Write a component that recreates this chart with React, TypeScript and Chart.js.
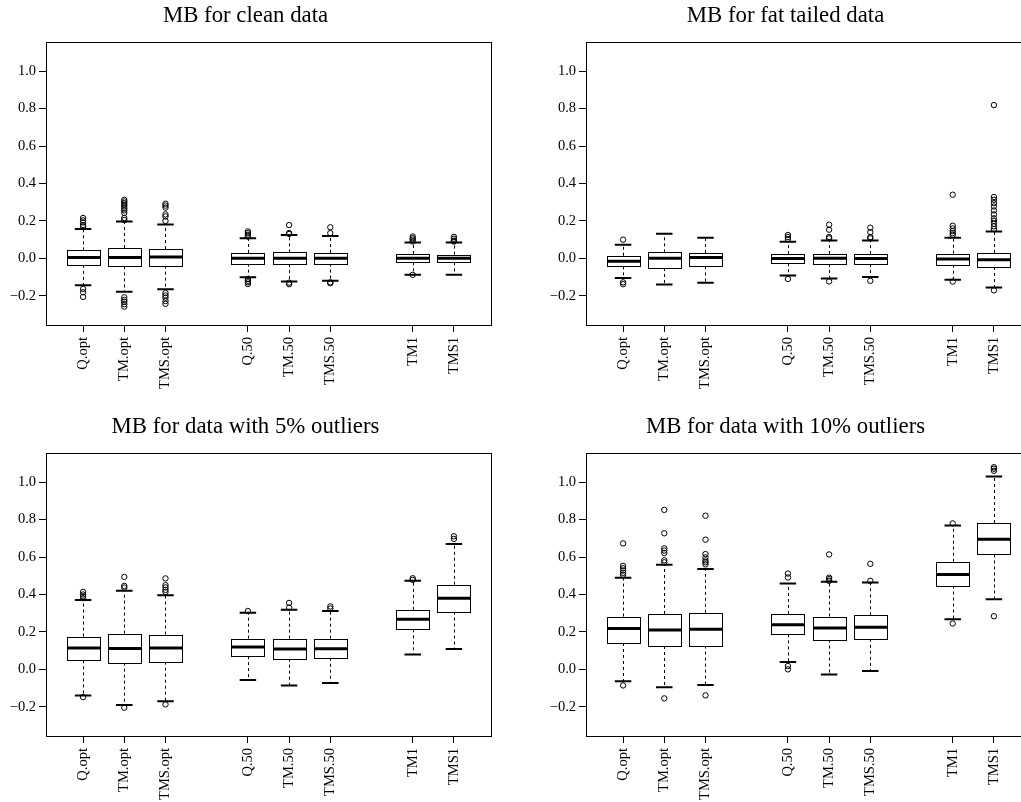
import React, { useEffect, useRef } from "react";
import { Chart, registerables } from "chart.js";

Chart.register(...registerables);

// ---- shared categories / ticks ----
const categories = ["Q.opt", "TM.opt", "TMS.opt", "Q.50", "TM.50", "TMS.50", "TM1", "TMS1"];
const positions = [1, 2, 3, 5, 6, 7, 9, 10];
const yTicks = [-0.2, 0, 0.2, 0.4, 0.6, 0.8, 1.0];
const panelTitles = [
  "MB for clean data",
  "MB for fat tailed data",
  "MB for data with 5% outliers",
  "MB for data with 10% outliers",
];

// ---- panel 1: clean data ----
const cleanLower = [-0.144, -0.178, -0.165, -0.101, -0.123, -0.119, -0.087, -0.087];
const cleanQ1 = [-0.035, -0.043, -0.039, -0.028, -0.031, -0.028, -0.021, -0.021];
const cleanMedian = [0.004, 0.004, 0.007, 0.0, 0.0, 0.0, 0.0, 0.0];
const cleanQ3 = [0.043, 0.055, 0.05, 0.029, 0.032, 0.029, 0.023, 0.02];
const cleanUpper = [0.157, 0.197, 0.181, 0.107, 0.125, 0.12, 0.085, 0.085];
const cleanOutliers = [
  [0.216, 0.203, 0.192, 0.178, 0.17, -0.163, -0.181, -0.206],
  [0.313, 0.304, 0.295, 0.286, 0.277, 0.266, 0.256, 0.242, 0.216, 0.205, -0.208, -0.222, -0.232, -0.245, -0.258],
  [0.292, 0.282, 0.271, 0.235, 0.224, 0.2, -0.185, -0.198, -0.21, -0.228, -0.243],
  [0.144, 0.135, 0.126, 0.117, -0.11, -0.12, -0.128, -0.137],
  [0.178, 0.135, 0.13, -0.13, -0.138],
  [0.166, 0.135, -0.128, -0.133],
  [0.117, 0.108, 0.1, 0.09, -0.088],
  [0.115, 0.105, 0.095, 0.09],
];

// ---- panel 2: fat tailed data ----
const fatLower = [-0.105, -0.14, -0.13, -0.092, -0.107, -0.1, -0.114, -0.156];
const fatQ1 = [-0.043, -0.051, -0.043, -0.026, -0.03, -0.03, -0.034, -0.046];
const fatMedian = [-0.016, 0.0, 0.004, -0.001, 0.0, -0.001, -0.003, -0.007];
const fatQ3 = [0.014, 0.032, 0.029, 0.023, 0.023, 0.023, 0.025, 0.029];
const fatUpper = [0.073, 0.132, 0.11, 0.089, 0.096, 0.096, 0.11, 0.144];
const fatOutliers = [
  [0.1, -0.128, -0.138],
  [],
  [],
  [0.125, 0.114, 0.103, -0.11],
  [0.18, 0.153, 0.114, 0.107, -0.123],
  [0.164, 0.14, 0.114, 0.107, -0.12],
  [0.34, 0.174, 0.16, 0.146, 0.135, 0.125, -0.124],
  [0.819, 0.328, 0.313, 0.295, 0.277, 0.256, 0.235, 0.214, 0.2, 0.185, 0.171, 0.157, -0.171],
];

// ---- panel 3: 5% outliers ----
const o5Lower = [-0.139, -0.191, -0.171, -0.057, -0.086, -0.073, 0.08, 0.109];
const o5Q1 = [0.048, 0.036, 0.041, 0.071, 0.057, 0.062, 0.214, 0.309];
const o5Median = [0.114, 0.112, 0.114, 0.12, 0.109, 0.11, 0.268, 0.38];
const o5Q3 = [0.175, 0.191, 0.186, 0.164, 0.164, 0.164, 0.318, 0.452];
const o5Upper = [0.37, 0.42, 0.396, 0.302, 0.318, 0.312, 0.473, 0.67];
const o5Outliers = [
  [0.414, 0.4, 0.39, 0.38, -0.148],
  [0.494, 0.446, 0.437, -0.205],
  [0.486, 0.45, 0.438, 0.425, 0.414, -0.187],
  [0.312],
  [0.355, 0.33],
  [0.336, 0.325],
  [0.487, 0.478],
  [0.711, 0.697],
];

// ---- panel 4: 10% outliers ----
const o10Lower = [-0.064, -0.095, -0.084, 0.039, -0.027, -0.009, 0.268, 0.375];
const o10Q1 = [0.141, 0.125, 0.127, 0.187, 0.159, 0.163, 0.448, 0.614];
const o10Median = [0.218, 0.211, 0.214, 0.239, 0.221, 0.225, 0.507, 0.695];
const o10Q3 = [0.282, 0.296, 0.302, 0.296, 0.282, 0.289, 0.575, 0.782];
const o10Upper = [0.489, 0.559, 0.536, 0.459, 0.468, 0.464, 0.768, 1.03];
const o10Outliers = [
  [0.673, 0.553, 0.54, 0.528, 0.516, 0.505, -0.086],
  [0.852, 0.727, 0.647, 0.635, 0.622, 0.583, 0.572, -0.155],
  [0.821, 0.693, 0.616, 0.598, 0.582, 0.572, 0.561, -0.139],
  [0.512, 0.491, 0.018, 0.0],
  [0.614, 0.49, 0.482, 0.473],
  [0.564, 0.473],
  [0.78, 0.245],
  [1.08, 1.072, 1.061, 0.284],
];

const FONT = "'Liberation Serif', 'Times New Roman', Times, serif";
const CW = 540;
const CH = 411;

type Stats = {
  lower: number[];
  q1: number[];
  median: number[];
  q3: number[];
  upper: number[];
  outliers: number[][];
};

function makeBoxPlugin(s: Stats) {
  return {
    id: "rbox",
    beforeDatasetsDraw(chart: any) {
      const { ctx, scales } = chart;
      const x = scales.x;
      const y = scales.y;
      ctx.save();
      ctx.strokeStyle = "#000";
      for (let i = 0; i < positions.length; i++) {
        const p = positions[i];
        const cx = Math.round(x.getPixelForValue(p)) + 0.5;
        const bl = x.getPixelForValue(p - 0.4);
        const br = x.getPixelForValue(p + 0.4);
        const sl = x.getPixelForValue(p - 0.2);
        const sr = x.getPixelForValue(p + 0.2);
        const yLo = y.getPixelForValue(s.lower[i]);
        const yQ1 = y.getPixelForValue(s.q1[i]);
        const yMed = y.getPixelForValue(s.median[i]);
        const yQ3 = y.getPixelForValue(s.q3[i]);
        const yHi = y.getPixelForValue(s.upper[i]);
        // whiskers (dashed)
        ctx.lineWidth = 1;
        ctx.setLineDash([3, 3]);
        ctx.beginPath();
        ctx.moveTo(cx, yQ3);
        ctx.lineTo(cx, yHi);
        ctx.moveTo(cx, yQ1);
        ctx.lineTo(cx, yLo);
        ctx.stroke();
        ctx.setLineDash([]);
        // staples
        ctx.lineWidth = 2;
        ctx.beginPath();
        ctx.moveTo(sl, yHi);
        ctx.lineTo(sr, yHi);
        ctx.moveTo(sl, yLo);
        ctx.lineTo(sr, yLo);
        ctx.stroke();
        // box
        ctx.lineWidth = 1;
        ctx.fillStyle = "#fff";
        const l = Math.round(bl) + 0.5;
        const r = Math.round(br) + 0.5;
        const t = Math.round(yQ3) + 0.5;
        const b = Math.round(yQ1) + 0.5;
        ctx.fillRect(l, t, r - l, b - t);
        ctx.strokeRect(l, t, r - l, b - t);
        // median
        ctx.lineWidth = 3;
        ctx.beginPath();
        ctx.moveTo(l, yMed);
        ctx.lineTo(r, yMed);
        ctx.stroke();
      }
      ctx.restore();
    },
    afterDraw(chart: any) {
      const { ctx, chartArea } = chart;
      ctx.save();
      ctx.strokeStyle = "#000";
      ctx.lineWidth = 1;
      ctx.strokeRect(
        Math.round(chartArea.left) + 0.5,
        Math.round(chartArea.top) + 0.5,
        Math.round(chartArea.right - chartArea.left),
        Math.round(chartArea.bottom - chartArea.top)
      );
      ctx.restore();
    },
  };
}

function BoxPanel(props: { title: string; stats: Stats; left: number; top: number }) {
  const ref = useRef<HTMLCanvasElement | null>(null);
  useEffect(() => {
    const canvas = ref.current;
    if (!canvas) return;
    const s = props.stats;
    const points = s.outliers.flatMap((arr, i) => arr.map((v) => ({ x: positions[i], y: v })));
    const chart = new Chart(canvas, {
      type: "scatter",
      data: {
        datasets: [
          {
            label: "outliers",
            data: points,
            pointRadius: 2.7,
            pointHoverRadius: 2.7,
            pointBorderWidth: 1,
            borderColor: "#000",
            backgroundColor: "rgba(0,0,0,0)",
            pointBackgroundColor: "rgba(0,0,0,0)",
            pointBorderColor: "#000",
          },
        ],
      },
      options: {
        animation: false,
        responsive: false,
        maintainAspectRatio: false,
        devicePixelRatio: 1,
        events: [],
        layout: { padding: { left: 0, right: CW - 491, top: 0, bottom: 0 } },
        plugins: {
          legend: { display: false },
          tooltip: { enabled: false },
          title: {
            display: true,
            text: props.title,
            color: "#000",
            font: { family: FONT, size: 22.8, weight: "normal", lineHeight: 1.2 },
            padding: { top: 2, bottom: 12.64 },
          },
        },
        scales: {
          x: {
            type: "linear",
            position: "bottom",
            min: 0.1,
            max: 10.9,
            afterBuildTicks: (axis: any) => {
              axis.ticks = positions.map((v) => ({ value: v }));
            },
            afterFit: (scale: any) => {
              scale.height = CH - 325;
            },
            grid: {
              display: true,
              drawOnChartArea: false,
              drawTicks: true,
              tickLength: 7,
              color: "#000",
              lineWidth: 1,
            },
            border: { display: false },
            ticks: {
              autoSkip: false,
              minRotation: 90,
              maxRotation: 90,
              padding: 5,
              color: "#000",
              font: { family: FONT, size: 14.5 },
              callback: (v: any) => {
                const idx = positions.indexOf(Number(v));
                return idx >= 0 ? categories[idx] : "";
              },
            },
          },
          y: {
            type: "linear",
            position: "left",
            min: -0.356,
            max: 1.156,
            afterBuildTicks: (axis: any) => {
              axis.ticks = yTicks.map((v) => ({ value: v }));
            },
            afterFit: (scale: any) => {
              scale.width = 46;
            },
            grid: {
              display: true,
              drawOnChartArea: false,
              drawTicks: true,
              tickLength: 7,
              color: "#000",
              lineWidth: 1,
            },
            border: { display: false },
            ticks: {
              padding: 3,
              color: "#000",
              font: { family: FONT, size: 14.5 },
              callback: (v: any) => Number(v).toFixed(1).replace("-", "\u2212"),
            },
          },
        },
      },
      plugins: [makeBoxPlugin(s)],
    } as any);
    return () => chart.destroy();
  }, [props.title, props.stats]);
  return (
    <canvas
      ref={ref}
      width={CW}
      height={CH}
      style={{ position: "absolute", left: props.left, top: props.top, width: CW, height: CH, display: "block" }}
    />
  );
}

const panelStats: Stats[] = [
  { lower: cleanLower, q1: cleanQ1, median: cleanMedian, q3: cleanQ3, upper: cleanUpper, outliers: cleanOutliers },
  { lower: fatLower, q1: fatQ1, median: fatMedian, q3: fatQ3, upper: fatUpper, outliers: fatOutliers },
  { lower: o5Lower, q1: o5Q1, median: o5Median, q3: o5Q3, upper: o5Upper, outliers: o5Outliers },
  { lower: o10Lower, q1: o10Q1, median: o10Median, q3: o10Q3, upper: o10Upper, outliers: o10Outliers },
];

export default function App() {
  return (
    <div
      style={{
        position: "absolute",
        left: 0,
        top: 0,
        width: 1021,
        height: 802,
        overflow: "hidden",
        background: "#fff",
      }}
    >
      {panelStats.map((st, i) => (
        <BoxPanel
          key={i}
          title={panelTitles[i]}
          stats={st}
          left={(i % 2) * CW}
          top={Math.floor(i / 2) * CH}
        />
      ))}
    </div>
  );
}
